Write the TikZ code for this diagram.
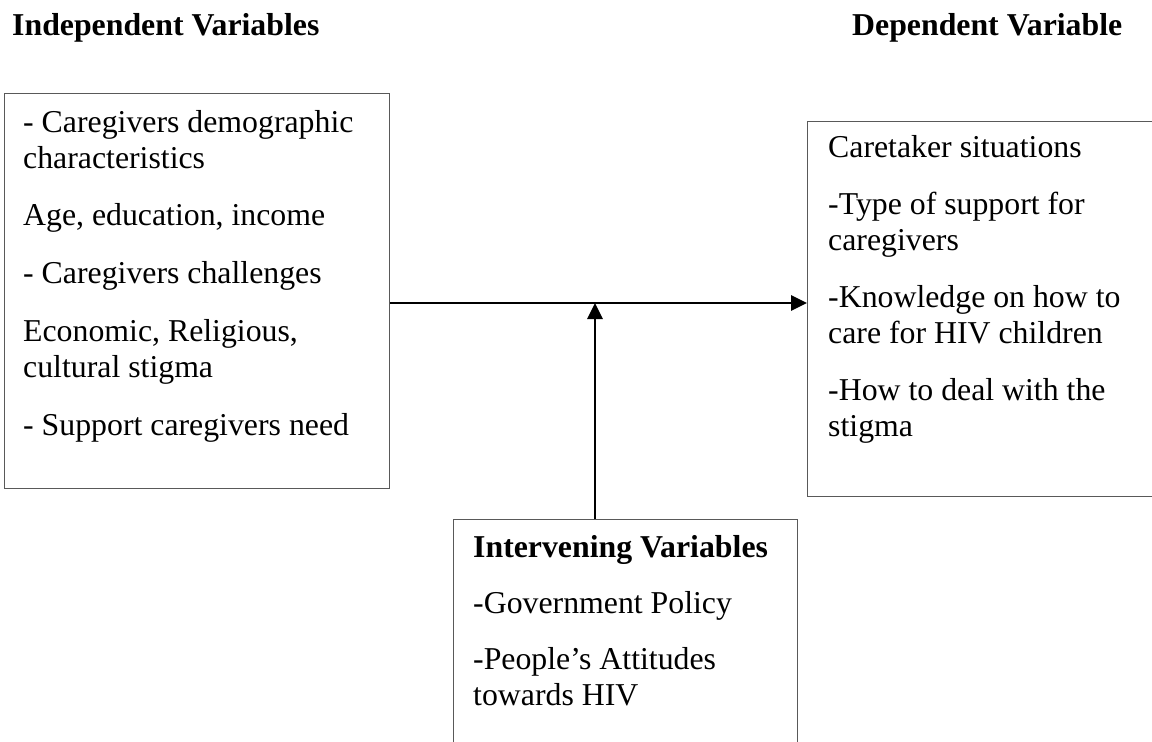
\documentclass[tikz,border=0pt]{standalone}
\usepackage{fontspec}
\setmainfont{Liberation Serif}
\usetikzlibrary{arrows.meta}
\tikzset{
  varbox/.style={draw=black!65, line width=1.4pt, anchor=north west, inner sep=0pt},
  vartext/.style={anchor=base west, align=left, inner sep=0pt, font=\fontsize{31.8}{36}\selectfont},
  varhead/.style={anchor=base west, inner sep=0pt, font=\fontsize{31.8}{36}\selectfont\bfseries},
  link/.style={line width=2.8pt, -{Triangle[length=16pt,width=15pt]}}
}

\begin{document}
\begin{tikzpicture}[x=1pt,y=-1pt]
        \useasboundingbox (0,0) rectangle (1152,742);

        % headings
        \node[varhead] (indephead) at (12,35) {Independent Variables};
        \node[varhead] (dephead) at (852,35) {Dependent Variable};

        % boxes
        \node[varbox, minimum width=385pt, minimum height=395pt] (indep) at (4,93) {};
        \node[varbox, minimum width=360pt, minimum height=375pt] (dep) at (807,121) {};
        \node[varbox, minimum width=344pt, minimum height=240pt] (interv) at (453,519) {};

        % text of the boxes (placed by the baseline of their last line)
        \node[vartext] (indeptxt) at (23,435) {- Caregivers demographic\\characteristics\\[21pt]Age, education, income\\[22pt]- Caregivers challenges\\[22pt]Economic, Religious,\\cultural stigma\\[22pt]- Support caregivers need};
        \node[vartext] (deptxt) at (828,436) {Caretaker situations\\[21pt]-Type of support for\\caregivers\\[21pt]-Knowledge on how to\\care for HIV children\\[21pt]-How to deal with the\\stigma};
        \node[varhead] (intervhead) at (473,557) {Intervening Variables};
        \node[vartext] (intervtxt) at (473,705) {-Government Policy\\[20pt]-People’s Attitudes\\towards HIV};

        % arrows
        \coordinate (join) at (595,303);
        \draw[link] (join -| indep.east) -- (join -| dep.west);
        \draw[link] (join |- interv.north) -- (join);
\end{tikzpicture}
\end{document}
